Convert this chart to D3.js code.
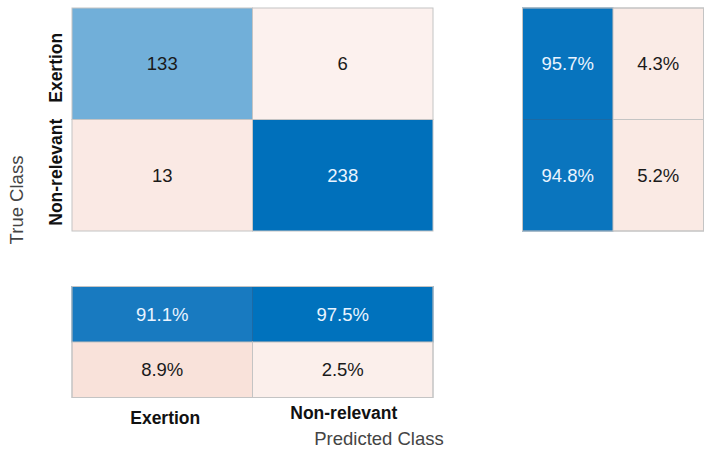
<!DOCTYPE html>
<html lang="en">
<head>
  <meta charset="UTF-8">
  <title>Confusion Chart</title>
  <script src="https://d3js.org/d3.v7.min.js"></script>
  <style>
    body { margin: 0; background: #fff; font-family: "Liberation Sans", Arial, sans-serif; }
    text { font-family: "Liberation Sans", Arial, sans-serif; }
  </style>
</head>
<body>
  <svg width="712" height="457"></svg>
  <script>
    const classes = ["Exertion", "Non-relevant"];
    // rows = true class, columns = predicted class
    const counts = [[133, 6], [13, 238]];
    // row summary: [correct %, incorrect %] per true class
    const rowSummary = [[95.7, 4.3], [94.8, 5.2]];
    // column summary: top row = correct %, bottom row = incorrect %
    const colSummary = [[91.1, 97.5], [8.9, 2.5]];

    const svg = d3.select("svg");

    const x = d3.scaleBand().domain(classes).range([72, 433]);
    const y = d3.scaleBand().domain(classes).range([8, 231]);
    const xr = d3.scaleBand().domain([0, 1]).range([522.5, 703.5]);
    const yc = d3.scaleBand().domain([0, 1]).range([286.5, 397.5]);

    const maxCount = d3.max(counts.flat());
    const blueCount = d3.scaleLinear().domain([0, maxCount]).range(["#ffffff", "#0070BB"]);
    const redCount = d3.scaleLinear().domain([0, 13]).range(["#FDF8F6", "#FAE9E4"]);
    const bluePct = d3.scaleLinear().domain([90, 97.5]).range(["#1C7BC1", "#0072BD"]).clamp(true);
    const redPct = d3.scaleLinear().domain([2.5, 8.9]).range(["#FBEFEB", "#F9E2DA"]);

    const txtColor = c => d3.hsl(c).l < 0.55 ? "#EAF4FF" : "#1a1a1a";
    const FS = 18.5;

    // main matrix
    const cells = [];
    counts.forEach((row, i) => row.forEach((v, j) => {
      cells.push({ t: classes[i], p: classes[j], v, diag: i === j });
    }));
    const main = svg.append("g");
    main.selectAll("rect").data(cells).enter().append("rect")
      .attr("x", d => x(d.p)).attr("y", d => y(d.t))
      .attr("width", x.bandwidth()).attr("height", y.bandwidth())
      .attr("fill", d => d.diag ? blueCount(d.v) : redCount(d.v))
      .attr("stroke", "#c4c4c4").attr("stroke-width", 1);
    main.selectAll("text").data(cells).enter().append("text")
      .attr("x", d => x(d.p) + x.bandwidth() / 2)
      .attr("y", d => y(d.t) + y.bandwidth() / 2)
      .attr("dy", "0.36em").attr("text-anchor", "middle")
      .attr("font-size", FS)
      .attr("fill", d => txtColor(d.diag ? blueCount(d.v) : redCount(d.v)))
      .text(d => d.v);

    // row summary
    const rcells = [];
    rowSummary.forEach((row, i) => row.forEach((v, j) => {
      rcells.push({ t: classes[i], k: j, v });
    }));
    const rs = svg.append("g");
    rs.selectAll("rect").data(rcells).enter().append("rect")
      .attr("x", d => xr(d.k)).attr("y", d => y(d.t))
      .attr("width", xr.bandwidth()).attr("height", y.bandwidth())
      .attr("fill", d => d.k === 0 ? bluePct(d.v) : redPct(d.v))
      .attr("stroke", d => d.k === 0 ? "#1b6aa5" : "#c4c4c4").attr("stroke-width", 1);
    rs.selectAll("text").data(rcells).enter().append("text")
      .attr("x", d => xr(d.k) + xr.bandwidth() / 2)
      .attr("y", d => y(d.t) + y.bandwidth() / 2)
      .attr("dy", "0.36em").attr("text-anchor", "middle")
      .attr("font-size", FS)
      .attr("fill", d => d.k === 0 ? "#EAF4FF" : "#1a1a1a")
      .text(d => d.v.toFixed(1) + "%");
    rs.append("rect").attr("x", 522.5).attr("y", 8).attr("width", 181).attr("height", 223)
      .attr("fill", "none").attr("stroke", "#c4c4c4");

    // column summary
    const ccells = [];
    colSummary.forEach((row, k) => row.forEach((v, j) => {
      ccells.push({ p: classes[j], k, v });
    }));
    const cs = svg.append("g");
    cs.selectAll("rect").data(ccells).enter().append("rect")
      .attr("x", d => x(d.p)).attr("y", d => yc(d.k))
      .attr("width", x.bandwidth()).attr("height", yc.bandwidth())
      .attr("fill", d => d.k === 0 ? bluePct(d.v) : redPct(d.v))
      .attr("stroke", d => d.k === 0 ? "#1b6aa5" : "#c4c4c4").attr("stroke-width", 1);
    cs.selectAll("text").data(ccells).enter().append("text")
      .attr("x", d => x(d.p) + x.bandwidth() / 2)
      .attr("y", d => yc(d.k) + yc.bandwidth() / 2)
      .attr("dy", "0.36em").attr("text-anchor", "middle")
      .attr("font-size", FS)
      .attr("fill", d => d.k === 0 ? "#EAF4FF" : "#1a1a1a")
      .text(d => d.v.toFixed(1) + "%");
    cs.append("rect").attr("x", 72).attr("y", 286.5).attr("width", 361).attr("height", 111)
      .attr("fill", "none").attr("stroke", "#c4c4c4");

    // tick labels
    const xOff = { "Exertion": [3, 424], "Non-relevant": [1, 419] };
    svg.selectAll(".xtick").data(classes).enter().append("text")
      .attr("class", "xtick")
      .attr("x", d => x(d) + x.bandwidth() / 2 + xOff[d][0])
      .attr("y", d => xOff[d][1])
      .attr("text-anchor", "middle").attr("font-size", 17.5).attr("font-weight", "bold")
      .attr("fill", "#111").text(d => d);
    const yOff = { "Exertion": 4, "Non-relevant": -3 };
    svg.selectAll(".ytick").data(classes).enter().append("text")
      .attr("class", "ytick")
      .attr("transform", d => `translate(62,${y(d) + y.bandwidth() / 2 + yOff[d]}) rotate(-90)`)
      .attr("text-anchor", "middle").attr("font-size", 17.5).attr("font-weight", "bold")
      .attr("fill", "#111").text(d => d);

    // axis titles
    svg.append("text").attr("x", 379).attr("y", 445)
      .attr("text-anchor", "middle").attr("font-size", 18.5).attr("fill", "#444")
      .text("Predicted Class");
    svg.append("text").attr("transform", "translate(23,200) rotate(-90)")
      .attr("text-anchor", "middle").attr("font-size", 18.5).attr("fill", "#444")
      .text("True Class");
  </script>
</body>
</html>
